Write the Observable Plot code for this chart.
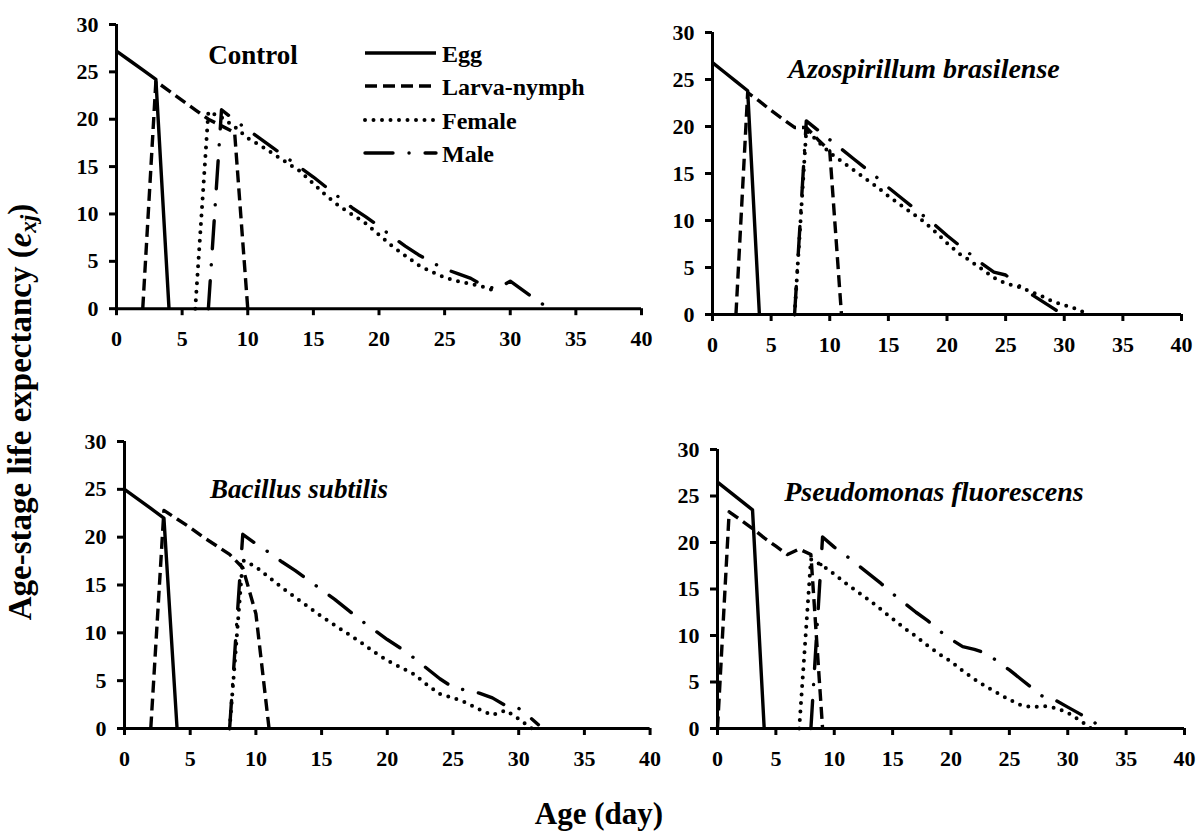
<!DOCTYPE html>
<html><head><meta charset="utf-8">
<script src="https://cdn.jsdelivr.net/npm/d3@7"></script>
<script src="https://cdn.jsdelivr.net/npm/@observablehq/plot@0.6"></script>
<style>
html,body{margin:0;padding:0;background:#fff;}
#fig{position:relative;width:1199px;height:832px;overflow:hidden;font-family:Liberation Serif,Times New Roman,serif;font-weight:bold;color:#000;background:#fff;}
#fig svg, #fig svg text{font-family:Liberation Serif,Times New Roman,serif !important;font-weight:bold !important;}
.panel{position:absolute;}
.title{position:absolute;white-space:nowrap;line-height:1;transform:translateX(-50%);}
</style></head><body><div id="fig"></div>
<script>
// ---- tick labels ----
const xTicks = [0,5,10,15,20,25,30,35,40];
const yTicks = [0,5,10,15,20,25,30];
const stageNames = ["Egg","Larva-nymph","Female","Male"];
const panelTitles = ["Control","Azospirillum brasilense","Bacillus subtilis","Pseudomonas fluorescens"];

// ---- Control: [age, e_xj] ----
const controlEgg = [[0,27.2],[1,26.2],[2,25.2],[3,24.2],[4,0]];
const controlLarva = [[2,0],[3,24.0],[4,23.0],[5,22.0],[6,21.0],[7,20.0],[8,19.3],[9,18.6],[10,0]];
const controlFemale = [[6,0],[7,20.8],[8,20.2],[9,19.2],[10,18.0],[11,17.2],[12,16.3],[13,15.4],[14,14.5],[15,13.2],[16,11.9],[17,10.8],[18,9.9],[19,9.0],[20,7.8],[21,6.6],[22,5.6],[23,4.6],[24,3.9],[25,3.3],[26,2.9],[27,2.6],[28,2.3],[29,1.8]];
const controlMale = [[7,0],[8,21.0],[9,19.9],[10,18.9],[11,17.9],[12,16.9],[13,15.9],[14,14.9],[15,13.9],[16,12.8],[17,11.7],[18,10.6],[19,9.7],[20,8.7],[21,7.6],[22,6.6],[23,5.7],[24,4.9],[25,4.2],[26,3.7],[27,3.2],[28,2.4],[29,2.1],[30,2.9],[31,1.9],[32,0.9],[33,0]];

// ---- Azospirillum brasilense ----
const azoEgg = [[0,26.8],[1,25.8],[2,24.8],[3,23.8],[4,0]];
const azoLarva = [[2,0],[3,23.6],[4,22.7],[5,21.7],[6,20.8],[7,19.9],[8,19.9],[9,18.6],[10,17.4],[11,0]];
const azoFemale = [[7,0],[8,19.6],[9,18.4],[10,17.2],[11,16.3],[12,15.4],[13,14.5],[14,13.6],[15,12.6],[16,11.7],[17,10.8],[18,9.9],[19,8.8],[20,7.6],[21,6.5],[22,5.7],[23,4.8],[24,3.9],[25,3.3],[26,3.0],[27,2.5],[28,2.0],[29,1.4],[30,1.0],[31,0.6],[32,0.05]];
const azoMale = [[7,0],[8,20.6],[9,19.6],[10,18.6],[11,17.6],[12,16.6],[13,15.6],[14,14.6],[15,13.5],[16,12.5],[17,11.5],[18,10.5],[19,9.5],[20,8.4],[21,7.4],[22,6.4],[23,5.4],[24,4.5],[25,4.2],[26,3.2],[27,2.3],[28,1.5],[29,0.7],[29.5,0.3]];

// ---- Bacillus subtilis ----
const bacEgg = [[0,25.0],[1,24.0],[2,23.0],[3,22.0],[4,0]];
const bacLarva = [[2,0],[3,22.8],[4,21.9],[5,21.0],[6,20.0],[7,19.1],[8,18.2],[9,16.8],[10,12.0],[11,0]];
const bacFemale = [[8,0],[9,17.6],[10,16.9],[11,15.8],[12,14.7],[13,13.7],[14,12.7],[15,11.7],[16,10.8],[17,9.9],[18,9.0],[19,8.0],[20,7.1],[21,6.4],[22,5.7],[23,4.6],[24,3.6],[25,3.2],[26,2.7],[27,2.0],[28,1.4],[29,1.9],[30,1.0],[31,0]];
const bacMale = [[8,0],[9,20.3],[10,19.3],[11,18.4],[12,17.4],[13,16.5],[14,15.5],[15,14.5],[16,13.5],[17,12.4],[18,11.3],[19,10.3],[20,9.3],[21,8.4],[22,7.4],[23,6.3],[24,5.2],[25,4.3],[26,4.0],[27,3.7],[28,3.2],[29,2.4],[30,2.1],[31,1.0],[31.5,0.4]];

// ---- Pseudomonas fluorescens ----
const pseEgg = [[0,26.5],[1,25.5],[2,24.5],[3,23.5],[4,0]];
const pseLarva = [[0,0],[1,23.3],[2,22.4],[3,21.5],[4,20.5],[5,19.6],[6,18.7],[7,19.3],[8,18.7],[9,0]];
const pseFemale = [[7,0],[8,18.2],[9,17.5],[10,16.6],[11,15.6],[12,14.7],[13,13.8],[14,12.8],[15,11.8],[16,10.8],[17,9.9],[18,8.9],[19,8.0],[20,7.2],[21,6.2],[22,5.3],[23,4.5],[24,3.8],[25,3.1],[26,2.5],[27,2.3],[28,2.4],[29,2.2],[30,1.7],[31,0.9],[32,0]];
const pseMale = [[8,0],[9,20.6],[10,19.5],[11,18.6],[12,17.6],[13,16.6],[14,15.6],[15,14.5],[16,13.5],[17,12.5],[18,11.6],[19,10.5],[20,9.6],[21,8.8],[22,8.5],[23,8.1],[24,7.2],[25,6.3],[26,5.3],[27,4.3],[28,3.3],[29,3.0],[30,2.3],[31,1.6],[32,0.9],[33,0]];

// ---- styles (not data) ----
const stageStyle = [
  {dash: null, width: 3.4, cap: "butt"},
  {dash: "12,6", width: 3.4, cap: "butt"},
  {dash: "0,8.5", width: 4, cap: "round"},
  {dash: "28,16,0.1,16", width: 3.4, cap: "round"}
];
const font = 'Liberation Serif, Times New Roman, serif';

// ---- layout ----
const panels = [
  {series: [controlEgg, controlLarva, controlFemale, controlMale], x0: 116, x1: 641, yTop: 24.3, yBot: 308.5,
   title: {cx: 253, base: 65, fs: 27, italic: false}},
  {series: [azoEgg, azoLarva, azoFemale, azoMale], x0: 712, x1: 1181, yTop: 32, yBot: 314,
   title: {cx: 924, base: 78, fs: 28, italic: true}},
  {series: [bacEgg, bacLarva, bacFemale, bacMale], x0: 124, x1: 649.6, yTop: 441, yBot: 728,
   title: {cx: 299, base: 499, fs: 27, italic: true}},
  {series: [pseEgg, pseLarva, pseFemale, pseMale], x0: 717, x1: 1184, yTop: 449, yBot: 728,
   title: {cx: 934, base: 501, fs: 28, italic: true}}
];

const fig = document.getElementById("fig");
const ml = 70, mr = 14, mt = 15, mb = 50;

panels.forEach((p, pi) => {
  const w = ml + (p.x1 - p.x0) + mr;
  const h = mt + (p.yBot - p.yTop) + mb;
  const marks = [
    Plot.axisX({ticks: xTicks, tickSize: 7, tickPadding: 15, strokeWidth: 3, label: null}),
    Plot.axisY({ticks: yTicks, tickSize: 7, tickPadding: 11, strokeWidth: 3, label: null}),
    Plot.ruleY([0], {strokeWidth: 3, stroke: "#000"}),
    Plot.ruleX([0], {strokeWidth: 3, stroke: "#000"}),
    ...p.series.map((s, i) => Plot.line(s, {
      x: d => d[0], y: d => d[1], stroke: "#000",
      strokeWidth: stageStyle[i].width,
      strokeDasharray: stageStyle[i].dash,
      strokeLinecap: stageStyle[i].cap,
      strokeLinejoin: "round"
    }))
  ];
  const chart = Plot.plot({
    width: w, height: h,
    marginLeft: ml, marginRight: mr, marginTop: mt, marginBottom: mb,
    x: {domain: [0, 40]},
    y: {domain: [0, 30]},
    style: {fontFamily: font, fontSize: "22px", fontWeight: "bold", color: "#000", background: "transparent", overflow: "visible", maxWidth: "none"},
    marks
  });
  const div = document.createElement("div");
  div.className = "panel";
  div.style.left = (p.x0 - ml) + "px";
  div.style.top = (p.yTop - mt) + "px";
  div.style.width = w + "px";
  div.appendChild(chart);
  fig.appendChild(div);

  const t = document.createElement("div");
  t.className = "title";
  t.textContent = panelTitles[pi];
  t.style.fontSize = p.title.fs + "px";
  t.style.fontStyle = p.title.italic ? "italic" : "normal";
  t.style.left = p.title.cx + "px";
  t.style.top = (p.title.base - 0.8375 * p.title.fs) + "px";
  fig.appendChild(t);
});

// ---- legend (inside Control panel) ----
const legendRows = [53, 86, 120, 153];
const lg = d3.select(fig).append("svg")
  .attr("width", 1199).attr("height", 832)
  .style("position", "absolute").style("left", 0).style("top", 0)
  .style("overflow", "visible");
stageNames.forEach((name, i) => {
  const y = legendRows[i];
  const ln = lg.append("line").attr("x1", 365).attr("x2", 436).attr("y1", y).attr("y2", y)
    .attr("stroke", "#000").attr("stroke-width", stageStyle[i].width)
    .attr("stroke-linecap", stageStyle[i].cap);
  if (stageStyle[i].dash) ln.attr("stroke-dasharray", stageStyle[i].dash);
  lg.append("text").attr("x", 442).attr("y", y + 9)
    .style("font-family", font).style("font-size", "24px").style("font-weight", "bold")
    .text(name);
});

// ---- axis titles ----
const yt = document.createElement("div");
yt.className = "title";
yt.innerHTML = 'Age-stage life expectancy (<i>e</i><sub style="font-size:0.7em;vertical-align:-0.25em"><i>xj</i></sub>)';
yt.style.fontSize = "33px";
yt.style.left = "22px";
yt.style.top = "412px";
yt.style.transform = "translate(-50%,-50%) rotate(-90deg)";
fig.appendChild(yt);

const xt = document.createElement("div");
xt.className = "title";
xt.textContent = "Age (day)";
xt.style.fontSize = "31px";
xt.style.left = "599px";
xt.style.top = (824 - 0.8375 * 31) + "px";
fig.appendChild(xt);
</script></body></html>
